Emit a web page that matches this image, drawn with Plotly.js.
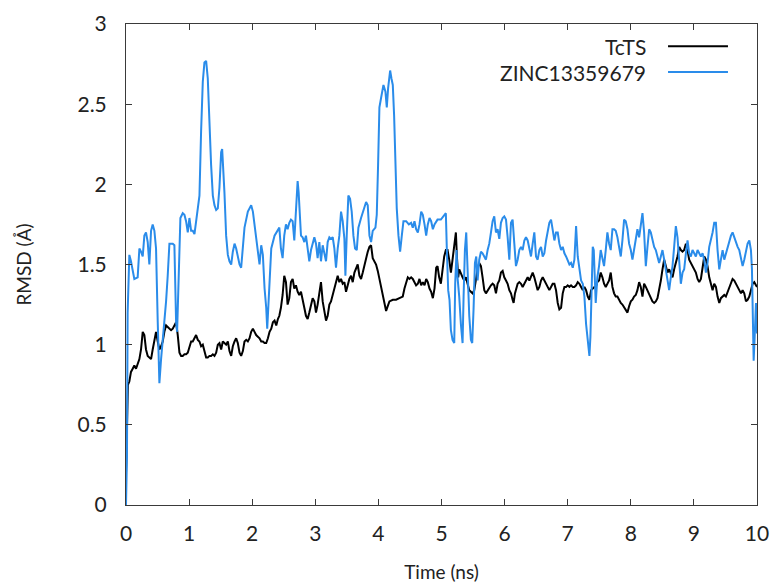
<!DOCTYPE html>
<html>
<head>
<meta charset="utf-8">
<script src="https://cdn.plot.ly/plotly-3.0.1.min.js"></script>
<style>html,body{margin:0;padding:0;background:#fff;}#chart{width:776px;height:587px;}</style>
</head>
<body>
<div id="chart"></div>
<script>
// Series names
const seriesNames = ["TcTS", "ZINC13359679"];

// TcTS (black) time (ns) and RMSD (Å)
const tcTime = [
0, 0.01, 0.03, 0.053, 0.079, 0.106, 0.132, 0.159, 0.185, 0.212,
0.238, 0.265, 0.291, 0.317, 0.344, 0.37, 0.397, 0.423, 0.45, 0.476,
0.503, 0.529, 0.556, 0.582, 0.608, 0.635, 0.661, 0.688, 0.714, 0.741,
0.767, 0.794, 0.82, 0.847, 0.873, 0.899, 0.926, 0.952, 0.979, 1.005,
1.032, 1.058, 1.085, 1.111, 1.138, 1.164, 1.19, 1.217, 1.243, 1.27,
1.296, 1.323, 1.349, 1.376, 1.402, 1.429, 1.455, 1.481, 1.508, 1.534,
1.56, 1.587, 1.614, 1.64, 1.667, 1.693, 1.72, 1.746, 1.772, 1.799,
1.825, 1.852, 1.878, 1.905, 1.931, 1.958, 1.984, 2.011, 2.037, 2.063,
2.09, 2.116, 2.143, 2.169, 2.196, 2.222, 2.249, 2.275, 2.302, 2.328,
2.354, 2.381, 2.407,
2.43, 2.455, 2.482, 2.508, 2.535, 2.561, 2.588, 2.614, 2.641, 2.667,
2.693, 2.72, 2.746, 2.773, 2.799, 2.826, 2.852, 2.879, 2.905, 2.932,
2.958, 2.985, 3.011, 3.037, 3.064, 3.09, 3.117, 3.143, 3.17, 3.196,
3.223, 3.249, 3.276, 3.302, 3.328, 3.355, 3.381, 3.408, 3.434, 3.461,
3.487, 3.514, 3.54, 3.567, 3.593, 3.62, 3.646, 3.672, 3.699, 3.725,
3.752, 3.778, 3.805, 3.831, 3.858, 3.884, 3.91, 3.937, 3.963, 3.99,
4.016, 4.043, 4.069, 4.096, 4.122, 4.148, 4.175, 4.228, 4.28, 4.333,
4.386, 4.413, 4.44, 4.466, 4.492, 4.519, 4.545, 4.572, 4.598, 4.625,
4.651, 4.678, 4.704, 4.731, 4.757, 4.783, 4.81, 4.836, 4.863, 4.889,
4.916,
4.937, 4.963, 4.99, 5.016, 5.043, 5.069, 5.096, 5.122, 5.149, 5.175,
5.202, 5.228, 5.244, 5.265, 5.281, 5.307, 5.334, 5.36, 5.387, 5.413,
5.44, 5.466, 5.492, 5.519, 5.545, 5.572, 5.598, 5.625, 5.651, 5.678,
5.704, 5.731, 5.757, 5.784, 5.81, 5.836, 5.863, 5.889, 5.916, 5.942,
5.969, 5.995, 6.022, 6.048, 6.075, 6.101, 6.127, 6.143, 6.164, 6.185,
6.207, 6.233, 6.26, 6.286, 6.313, 6.339, 6.366, 6.392, 6.418, 6.445,
6.471, 6.498, 6.524, 6.551, 6.577, 6.604, 6.63, 6.657, 6.683, 6.709,
6.736, 6.762, 6.789, 6.815, 6.842, 6.868, 6.895, 6.921, 6.948, 6.974,
7.0, 7.027, 7.053, 7.08, 7.106, 7.133, 7.159, 7.186, 7.212, 7.239,
7.265, 7.291, 7.318, 7.344, 7.371, 7.397, 7.424,
7.444, 7.47, 7.497, 7.523, 7.55, 7.576, 7.603, 7.629, 7.656, 7.682,
7.709, 7.735, 7.761, 7.788, 7.814, 7.841, 7.867, 7.894, 7.92, 7.947,
7.973, 8.0, 8.026, 8.052, 8.079, 8.105, 8.132, 8.158, 8.185, 8.211,
8.238, 8.264, 8.291, 8.317, 8.343, 8.37, 8.396, 8.423, 8.449, 8.476,
8.502, 8.529, 8.555, 8.582, 8.608, 8.634, 8.661, 8.687, 8.714, 8.74,
8.767, 8.793, 8.82, 8.846, 8.873, 8.899, 8.925, 8.952, 8.978, 9.005,
9.031, 9.058, 9.084, 9.111, 9.137, 9.164, 9.19, 9.216, 9.243, 9.269,
9.296, 9.322, 9.349, 9.375, 9.402, 9.428, 9.455, 9.481, 9.507, 9.534,
9.56, 9.587, 9.613, 9.64, 9.666, 9.693, 9.719, 9.746, 9.772, 9.798,
9.825, 9.851, 9.878, 9.904, 9.931, 9.957, 9.984, 10.0
];
const tcRmsd = [
0.2, 0.5, 0.75, 0.77, 0.83, 0.85, 0.87, 0.85, 0.88, 0.91,
0.97, 1.08, 1.06, 0.97, 0.93, 0.92, 0.91, 0.97, 1.04, 1.08,
1.02, 0.97, 0.99, 1.02, 1.08, 1.12, 1.11, 1.10, 1.09, 1.10,
1.12, 1.14, 1.06, 0.95, 0.93, 0.93, 0.94, 0.94, 0.95, 0.99,
1.02, 1.02, 1.04, 1.06, 1.03, 1.02, 0.99, 1.00, 0.96, 0.92,
0.92, 0.93, 0.93, 0.94, 0.93, 0.95, 1.00, 1.01, 0.97, 1.02,
1.01, 1.00, 1.02, 0.96, 0.93, 0.99, 1.02, 1.04, 1.01, 0.95,
0.93, 0.96, 1.02, 1.03, 1.02, 1.04, 1.08, 1.10, 1.08, 1.06,
1.05, 1.04, 1.02, 1.02, 1.01, 1.01, 1.04, 1.08, 1.10, 1.14,
1.15, 1.12, 1.16,
1.18, 1.23, 1.31, 1.43, 1.39, 1.25, 1.29, 1.39, 1.41, 1.35,
1.37, 1.33, 1.31, 1.33, 1.27, 1.23, 1.18, 1.16, 1.20, 1.25,
1.29, 1.27, 1.20, 1.25, 1.33, 1.39, 1.27, 1.20, 1.15, 1.18,
1.25, 1.27, 1.31, 1.35, 1.39, 1.43, 1.39, 1.41, 1.38, 1.39,
1.33, 1.37, 1.41, 1.43, 1.39, 1.45, 1.48, 1.50, 1.43, 1.41,
1.45, 1.50, 1.54, 1.58, 1.61, 1.62, 1.54, 1.52, 1.50, 1.46,
1.41, 1.37, 1.33, 1.27, 1.21, 1.24, 1.27, 1.28, 1.28, 1.29,
1.30, 1.35, 1.39, 1.42, 1.41, 1.42, 1.41, 1.39, 1.37, 1.38,
1.41, 1.37, 1.39, 1.37, 1.41, 1.39, 1.35, 1.33, 1.29, 1.35,
1.48,
1.49, 1.42, 1.38, 1.47, 1.55, 1.59, 1.59, 1.53, 1.45, 1.53,
1.61, 1.70, 1.55, 1.42, 1.47, 1.44, 1.42, 1.40, 1.42, 1.38,
1.34, 1.33, 1.32, 1.34, 1.42, 1.47, 1.51, 1.49, 1.42, 1.34,
1.32, 1.34, 1.36, 1.37, 1.38, 1.37, 1.32, 1.38, 1.40, 1.45,
1.46, 1.42, 1.40, 1.38, 1.34, 1.32, 1.28, 1.26, 1.32, 1.36,
1.38, 1.39, 1.38, 1.36, 1.38, 1.40, 1.42, 1.40, 1.42, 1.45,
1.42, 1.38, 1.34, 1.36, 1.40, 1.42, 1.40, 1.38, 1.36, 1.34,
1.36, 1.38, 1.38, 1.34, 1.26, 1.22, 1.23, 1.32, 1.36, 1.36,
1.37, 1.36, 1.37, 1.36, 1.36, 1.37, 1.39, 1.38, 1.36, 1.34,
1.36, 1.34, 1.30, 1.28, 1.34, 1.35, 1.36,
1.36, 1.39, 1.40, 1.45, 1.42, 1.38, 1.36, 1.38, 1.40, 1.45,
1.36, 1.32, 1.30, 1.30, 1.28, 1.26, 1.25, 1.23, 1.22, 1.20,
1.24, 1.27, 1.28, 1.30, 1.31, 1.34, 1.39, 1.36, 1.30, 1.38,
1.36, 1.34, 1.32, 1.29, 1.27, 1.26, 1.27, 1.29, 1.34, 1.40,
1.47, 1.53, 1.49, 1.45, 1.47, 1.45, 1.42, 1.47, 1.51, 1.55,
1.61, 1.59, 1.58, 1.59, 1.63, 1.59, 1.53, 1.51, 1.49, 1.47,
1.45, 1.41, 1.39, 1.41, 1.47, 1.55, 1.53, 1.49, 1.42, 1.38,
1.34, 1.38, 1.36, 1.30, 1.26, 1.29, 1.30, 1.31, 1.30, 1.33,
1.36, 1.39, 1.41, 1.40, 1.38, 1.36, 1.34, 1.32, 1.34, 1.32,
1.27, 1.28, 1.30, 1.34, 1.38, 1.39, 1.37, 1.36
];

// ZINC13359679 (blue) time (ns) and RMSD (Å)
const zincTime = [
0, 0.015, 0.026, 0.053, 0.079, 0.132, 0.185, 0.212, 0.238, 0.265,
0.291, 0.317, 0.344, 0.37, 0.397, 0.423, 0.45, 0.476, 0.503, 0.529,
0.556, 0.582, 0.608, 0.635, 0.661, 0.688, 0.741, 0.767, 0.794, 0.81,
0.862, 0.899, 0.926, 0.952, 0.979, 1.005, 1.032, 1.058, 1.085, 1.111,
1.138, 1.164, 1.19, 1.217, 1.243, 1.27, 1.296, 1.323, 1.349, 1.376,
1.402, 1.429, 1.455, 1.481, 1.508, 1.524, 1.534, 1.56, 1.587, 1.614,
1.64, 1.667, 1.693, 1.72, 1.746, 1.772, 1.799, 1.825, 1.852, 1.878,
1.931, 1.984, 2.011, 2.037, 2.063, 2.09, 2.116, 2.143, 2.169, 2.196,
2.222, 2.238, 2.259, 2.302, 2.354, 2.407,
2.43, 2.455, 2.482, 2.508, 2.535, 2.561, 2.588, 2.614, 2.641, 2.667,
2.693, 2.72, 2.736, 2.757, 2.773, 2.799, 2.826, 2.852, 2.879, 2.905,
2.932, 2.958, 2.985, 3.011, 3.037, 3.064, 3.09, 3.117, 3.143, 3.17,
3.196, 3.223, 3.249, 3.276, 3.302, 3.328, 3.355, 3.381, 3.408, 3.434,
3.461, 3.477, 3.498, 3.524, 3.551, 3.577, 3.604, 3.63, 3.657, 3.683,
3.725, 3.762, 3.805, 3.831, 3.858, 3.884, 3.91, 3.953, 3.974, 3.995,
4.016, 4.043, 4.08, 4.111, 4.133, 4.154, 4.186, 4.207, 4.228, 4.249,
4.27, 4.291, 4.318, 4.344, 4.371, 4.397, 4.44, 4.482, 4.519, 4.545,
4.572, 4.598, 4.625, 4.651, 4.678, 4.704, 4.731, 4.757, 4.783, 4.81,
4.836, 4.863, 4.889, 4.916,
4.937, 4.99, 5.043, 5.069, 5.085, 5.106, 5.127, 5.149, 5.175, 5.202,
5.217, 5.239, 5.254, 5.281, 5.307, 5.334, 5.35, 5.371, 5.392, 5.413,
5.44, 5.466, 5.487, 5.508, 5.53, 5.551, 5.572, 5.598, 5.625, 5.651,
5.678, 5.704, 5.731, 5.757, 5.784, 5.81, 5.836, 5.863, 5.889, 5.916,
5.942, 5.969, 5.995, 6.022, 6.048, 6.075, 6.101, 6.127, 6.154, 6.18,
6.207, 6.233, 6.26, 6.286, 6.313, 6.339, 6.366, 6.392, 6.418, 6.445,
6.471, 6.498, 6.524, 6.551, 6.577, 6.604, 6.63, 6.657, 6.683, 6.709,
6.736, 6.762, 6.789, 6.815, 6.842, 6.868, 6.895, 6.921, 6.948, 6.974,
7.0, 7.027, 7.053, 7.08, 7.106, 7.133, 7.159, 7.186, 7.212, 7.239,
7.265, 7.291, 7.318, 7.344, 7.36, 7.381, 7.397, 7.413, 7.434,
7.444, 7.47, 7.497, 7.523, 7.55, 7.576, 7.603, 7.629, 7.656, 7.682,
7.709, 7.735, 7.761, 7.788, 7.814, 7.841, 7.867, 7.894, 7.92, 7.947,
7.973, 8.0, 8.026, 8.052, 8.079, 8.105, 8.132, 8.158, 8.185, 8.211,
8.238, 8.264, 8.291, 8.317, 8.343, 8.37, 8.396, 8.423, 8.449, 8.476,
8.502, 8.529, 8.555, 8.582, 8.608, 8.634, 8.661, 8.687, 8.714, 8.74,
8.767, 8.793, 8.82, 8.846, 8.873, 8.899, 8.925, 8.952, 8.978, 9.005,
9.031, 9.058, 9.084, 9.111, 9.137, 9.164, 9.19, 9.216, 9.243, 9.269,
9.296, 9.322, 9.349, 9.375, 9.402, 9.428, 9.455, 9.481, 9.507, 9.534,
9.56, 9.587, 9.613, 9.64, 9.666, 9.693, 9.719, 9.746, 9.772, 9.798,
9.825, 9.851, 9.878, 9.904, 9.92, 9.931, 9.947, 9.963, 9.984, 10.0
];
const zincRmsd = [
0.0, 0.3, 1.2, 1.56, 1.52, 1.41, 1.42, 1.60, 1.58, 1.55,
1.68, 1.70, 1.64, 1.50, 1.71, 1.75, 1.71, 1.60, 1.14, 0.76,
0.91, 1.02, 1.12, 1.27, 1.43, 1.63, 1.63, 1.62, 1.14, 1.08,
1.79, 1.82, 1.81, 1.77, 1.70, 1.79, 1.71, 1.71, 1.69, 1.77,
1.83, 1.93, 2.33, 2.64, 2.76, 2.77, 2.66, 2.33, 2.12, 1.93,
1.87, 1.84, 1.85, 1.98, 2.20, 2.22, 2.16, 1.95, 1.68, 1.56,
1.52, 1.50, 1.58, 1.63, 1.60, 1.54, 1.50, 1.48, 1.60, 1.73,
1.83, 1.87, 1.83, 1.75, 1.68, 1.60, 1.50, 1.62, 1.56, 1.35,
1.23, 1.10, 1.29, 1.60, 1.68, 1.71,
1.73, 1.60, 1.54, 1.68, 1.75, 1.72, 1.76, 1.78, 1.77, 1.65,
1.87, 2.02, 1.95, 1.77, 1.68, 1.67, 1.64, 1.68, 1.58, 1.52,
1.59, 1.64, 1.67, 1.63, 1.54, 1.64, 1.52, 1.62, 1.57, 1.52,
1.64, 1.67, 1.66, 1.67, 1.60, 1.48, 1.60, 1.68, 1.83, 1.77,
1.66, 1.43, 1.68, 1.93, 1.91, 1.83, 1.68, 1.60, 1.59, 1.73,
1.79, 1.83, 1.89, 1.87, 1.68, 1.64, 1.71, 1.73, 1.81, 2.12,
2.48, 2.54, 2.62, 2.58, 2.48, 2.60, 2.71, 2.66, 2.62, 2.43,
2.16, 1.85, 1.68, 1.58, 1.68, 1.77, 1.77, 1.75, 1.76, 1.73,
1.77, 1.72, 1.70, 1.75, 1.83, 1.81, 1.75, 1.68, 1.75, 1.79,
1.77, 1.72, 1.75, 1.77,
1.78, 1.78, 1.81, 1.82, 1.59, 1.34, 1.28, 1.09, 1.03, 1.01,
1.38, 1.59, 1.42, 1.30, 1.13, 1.01, 1.30, 1.59, 1.70, 1.42,
1.18, 1.03, 1.01, 1.22, 1.51, 1.55, 1.40, 1.53, 1.58, 1.57,
1.55, 1.53, 1.59, 1.63, 1.70, 1.77, 1.80, 1.70, 1.72, 1.66,
1.76, 1.79, 1.80, 1.78, 1.67, 1.53, 1.76, 1.78, 1.63, 1.49,
1.53, 1.59, 1.61, 1.59, 1.65, 1.67, 1.65, 1.59, 1.55, 1.63,
1.70, 1.55, 1.53, 1.59, 1.61, 1.55, 1.57, 1.65, 1.72, 1.76,
1.78, 1.72, 1.65, 1.70, 1.70, 1.63, 1.59, 1.61, 1.57, 1.55,
1.53, 1.50, 1.51, 1.48, 1.53, 1.74, 1.55, 1.47, 1.40, 1.38,
1.30, 1.13, 1.01, 0.93, 1.05, 1.49, 1.61, 1.59, 1.40,
1.26, 1.42, 1.49, 1.59, 1.53, 1.49, 1.59, 1.70, 1.63, 1.59,
1.72, 1.72, 1.71, 1.67, 1.61, 1.55, 1.65, 1.78, 1.77, 1.72,
1.63, 1.59, 1.53, 1.59, 1.67, 1.72, 1.67, 1.74, 1.82, 1.70,
1.49, 1.61, 1.72, 1.70, 1.65, 1.61, 1.59, 1.55, 1.51, 1.55,
1.59, 1.53, 1.47, 1.38, 1.34, 1.42, 1.49, 1.61, 1.74, 1.67,
1.49, 1.38, 1.45, 1.47, 1.57, 1.65, 1.57, 1.55, 1.59, 1.57,
1.55, 1.59, 1.57, 1.55, 1.57, 1.53, 1.45, 1.51, 1.61, 1.65,
1.70, 1.76, 1.76, 1.59, 1.47, 1.53, 1.59, 1.53, 1.57, 1.61,
1.65, 1.68, 1.70, 1.67, 1.63, 1.61, 1.59, 1.53, 1.49, 1.53,
1.59, 1.63, 1.65, 1.59, 1.47, 1.07, 0.90, 1.05, 1.26, 1.07
];

const xTicks = [0, 1, 2, 3, 4, 5, 6, 7, 8, 9, 10];
const yTicks = [0, 0.5, 1, 1.5, 2, 2.5, 3];
const yTickText = ["0", "0.5", "1", "1.5", "2", "2.5", "3"];

const FONT = "Lato, 'Open Sans', sans-serif";
const BLUE = "#2a8cea";

const traces = [
  {x: tcTime, y: tcRmsd, type: "scatter", mode: "lines", name: seriesNames[0],
   line: {color: "#000000", width: 2}},
  {x: zincTime, y: zincRmsd, type: "scatter", mode: "lines", name: seriesNames[1],
   line: {color: BLUE, width: 2}}
];

const axisCommon = {
  showline: true, mirror: "ticks", linecolor: "#3a3a3a", linewidth: 1,
  ticks: "inside", ticklen: 6, tickcolor: "#3a3a3a", tickwidth: 1,
  showgrid: false, zeroline: false,
  tickfont: {family: FONT, size: 21, color: "#222"}
};

const layout = {
  width: 776, height: 587,
  margin: {l: 126, r: 19, t: 24, b: 82, pad: 0},
  paper_bgcolor: "#fff", plot_bgcolor: "#fff",
  showlegend: false,
  xaxis: Object.assign({}, axisCommon, {
    range: [0, 10], tickvals: xTicks, ticktext: xTicks.map(String),
    ticklabelstandoff: 10,
    title: {text: "Time (ns)", font: {family: FONT, size: 19, color: "#222"}, standoff: 21}
  }),
  yaxis: Object.assign({}, axisCommon, {
    range: [0, 3], tickvals: yTicks, ticktext: yTickText,
    ticklabelstandoff: 14,
    title: {text: "RMSD (Å)", font: {family: FONT, size: 19, color: "#222"}, standoff: 40}
  }),
  annotations: [
    {xref: "paper", yref: "paper", x: 0.827, y: 0.954, xanchor: "right", yanchor: "middle",
     text: seriesNames[0], showarrow: false, font: {family: FONT, size: 21, color: "#222"}},
    {xref: "paper", yref: "paper", x: 0.827, y: 0.900, xanchor: "right", yanchor: "middle",
     text: seriesNames[1], showarrow: false, font: {family: FONT, size: 21, color: "#222"}}
  ],
  shapes: [
    {type: "line", xref: "paper", yref: "paper", x0: 0.859, x1: 0.954, y0: 0.954, y1: 0.954,
     line: {color: "#000", width: 2}},
    {type: "line", xref: "paper", yref: "paper", x0: 0.859, x1: 0.954, y0: 0.900, y1: 0.900,
     line: {color: BLUE, width: 2}}
  ]
};

Plotly.newPlot("chart", traces, layout, {staticPlot: true, displayModeBar: false});
</script>
</body>
</html>
